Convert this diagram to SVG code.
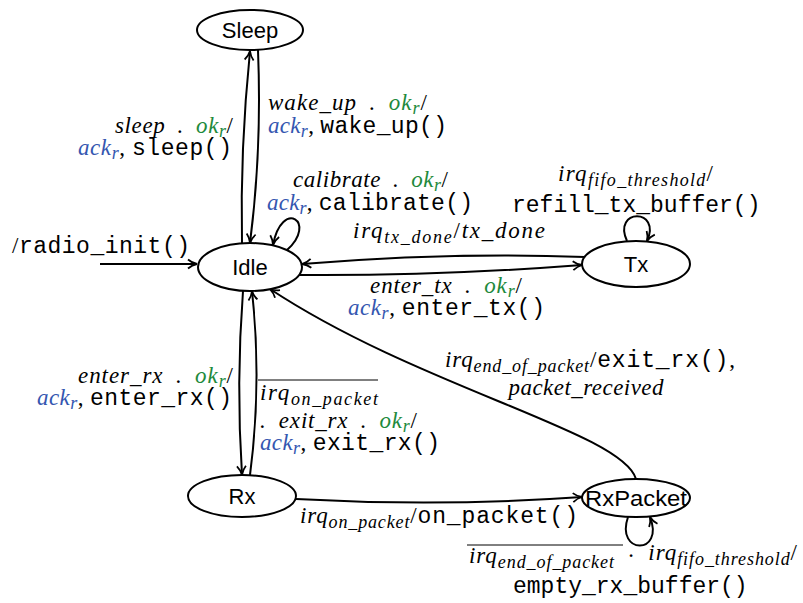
<svg xmlns="http://www.w3.org/2000/svg" width="803" height="603" viewBox="0 0 803 603">
<style>
.n{fill:#fff;stroke:#000;stroke-width:2}
.nl{font-family:"Liberation Sans",Arial,sans-serif;font-size:22px;text-anchor:middle;fill:#000}
.e{fill:none;stroke:#000;stroke-width:2;marker-end:url(#a)}
.t{font-family:"Liberation Serif","DejaVu Serif",serif;font-size:23px;fill:#000}
.m{font-style:italic}
.c{font-family:"Liberation Mono","DejaVu Sans Mono",monospace;font-size:23px;font-style:normal}
.g{fill:#1e8a3c}
.b{fill:#3456b0}
.s{font-size:18px}
.ol{stroke:#000;stroke-width:1}
</style>
<defs>
<marker id="a" viewBox="0 0 12 12" refX="11" refY="6" markerWidth="12" markerHeight="12" markerUnits="userSpaceOnUse" orient="auto">
<path d="M2,1.5 Q6,5 11,6 Q6,7 2,10.5" fill="none" stroke="#000" stroke-width="1.8"/>
</marker>
</defs>
<g id="edges">
<path class="e" d="M100 264 L197 264"/>
<path class="e" d="M242 243 Q240 150 250 51"/>
<path class="e" d="M258 50 Q262 150 250 243"/>
<path class="e" d="M287 250 C318 222 282 198 273 245"/>
<path class="e" d="M243 291 Q236 383 242 475"/>
<path class="e" d="M250 475 Q262 383 252 291"/>
<path class="e" d="M585 257 Q450 252 302 264"/>
<path class="e" d="M299 275 Q440 276 582 265"/>
<path class="e" d="M627 241 C612 208 662 208 647 241"/>
<path class="e" d="M296 499 Q440 507 582 497"/>
<path class="e" d="M636 479 C622 432 420 388 270 289"/>
<path class="e" d="M628 517 C615 555 665 555 650 517"/>
</g>
<g id="Sleep"><ellipse class="n" cx="250" cy="30" rx="53" ry="20"/><text class="nl" x="250" y="38">Sleep</text></g>
<g id="Idle"><ellipse class="n" cx="250" cy="267" rx="52" ry="24"/><text class="nl" x="250" y="275">Idle</text></g>
<g id="Tx"><ellipse class="n" cx="636" cy="264" rx="54" ry="23"/><text class="nl" x="636" y="272">Tx</text></g>
<g id="Rx"><ellipse class="n" cx="242" cy="496" rx="54" ry="21"/><text class="nl" x="242" y="504">Rx</text></g>
<g id="RxPacket"><ellipse class="n" cx="636" cy="498" rx="54" ry="19"/><text class="nl" x="636" y="506" textLength="102" lengthAdjust="spacingAndGlyphs">RxPacket</text></g>
<g id="labels">
<text class="t" x="268" y="110" textLength="159"><tspan class="m">wake_up&#8194;.&#8194;</tspan><tspan class="m g">ok</tspan><tspan class="m g s" dy="4">r</tspan><tspan dy="-4">/</tspan></text>
<text class="t" x="268" y="133" textLength="179"><tspan class="m b">ack</tspan><tspan class="m b s" dy="4">r</tspan><tspan dy="-4">, </tspan><tspan class="c">wake_up()</tspan></text>
<text class="t" x="233" y="133" text-anchor="end" textLength="118"><tspan class="m">sleep&#8194;.&#8194;</tspan><tspan class="m g">ok</tspan><tspan class="m g s" dy="4">r</tspan><tspan dy="-4">/</tspan></text>
<text class="t" x="232" y="155" text-anchor="end" textLength="154"><tspan class="m b">ack</tspan><tspan class="m b s" dy="4">r</tspan><tspan dy="-4">, </tspan><tspan class="c">sleep()</tspan></text>
<text class="t" x="293" y="187" textLength="155"><tspan class="m">calibrate&#8194;.&#8194;</tspan><tspan class="m g">ok</tspan><tspan class="m g s" dy="4">r</tspan><tspan dy="-4">/</tspan></text>
<text class="t" x="267" y="210" textLength="206"><tspan class="m b">ack</tspan><tspan class="m b s" dy="4">r</tspan><tspan dy="-4">, </tspan><tspan class="c">calibrate()</tspan></text>
<text class="t" x="353" y="238" textLength="192"><tspan class="m">irq</tspan><tspan class="m s" dy="5">tx_done</tspan><tspan dy="-5">/</tspan><tspan class="m">tx_done</tspan></text>
<text class="t" x="370" y="293" textLength="152"><tspan class="m">enter_tx&#8194;.&#8194;</tspan><tspan class="m g">ok</tspan><tspan class="m g s" dy="4">r</tspan><tspan dy="-4">/</tspan></text>
<text class="t" x="348" y="315" textLength="197"><tspan class="m b">ack</tspan><tspan class="m b s" dy="4">r</tspan><tspan dy="-4">, </tspan><tspan class="c">enter_tx()</tspan></text>
<text class="t" x="558" y="181" textLength="155"><tspan class="m">irq</tspan><tspan class="m s" dy="5">fifo_threshold</tspan><tspan dy="-5">/</tspan></text>
<text class="t" x="512" y="212"><tspan class="c">refill_tx_buffer()</tspan></text>
<text class="t" x="12" y="253" textLength="178">/<tspan class="c">radio_init()</tspan></text>
<text class="t" x="233" y="383" text-anchor="end" textLength="155"><tspan class="m">enter_rx&#8194;.&#8194;</tspan><tspan class="m g">ok</tspan><tspan class="m g s" dy="4">r</tspan><tspan dy="-4">/</tspan></text>
<text class="t" x="232" y="405" text-anchor="end" textLength="195"><tspan class="m b">ack</tspan><tspan class="m b s" dy="4">r</tspan><tspan dy="-4">, </tspan><tspan class="c">enter_rx()</tspan></text>
<line class="ol" x1="258" y1="380" x2="378" y2="380"/>
<text class="t" x="260" y="400" textLength="118"><tspan class="m">irq</tspan><tspan class="m s" dy="5">on_packet</tspan></text>
<text class="t" x="260" y="428" textLength="157"><tspan class="m">.&#8194;exit_rx&#8194;.&#8194;</tspan><tspan class="m g">ok</tspan><tspan class="m g s" dy="4">r</tspan><tspan dy="-4">/</tspan></text>
<text class="t" x="260" y="450" textLength="180"><tspan class="m b">ack</tspan><tspan class="m b s" dy="4">r</tspan><tspan dy="-4">, </tspan><tspan class="c">exit_rx()</tspan></text>
<text class="t" x="445" y="367" textLength="290"><tspan class="m">irq</tspan><tspan class="m s" dy="5">end_of_packet</tspan><tspan dy="-5">/</tspan><tspan class="c">exit_rx()</tspan>,</text>
<text class="t m" x="586" y="395" text-anchor="middle" textLength="155">packet_received</text>
<text class="t" x="300" y="523" textLength="278"><tspan class="m">irq</tspan><tspan class="m s" dy="5">on_packet</tspan><tspan dy="-5">/</tspan><tspan class="c">on_packet()</tspan></text>
<line class="ol" x1="467" y1="545" x2="623" y2="545"/>
<text class="t" x="469" y="563" textLength="328"><tspan class="m">irq</tspan><tspan class="m s" dy="5">end_of_packet</tspan><tspan dy="-5">&#8194;·&#8194;</tspan><tspan class="m" dy="-3">irq</tspan><tspan class="m s" dy="5">fifo_threshold</tspan><tspan dy="-5">/</tspan></text>
<text class="t" x="513" y="593"><tspan class="c">empty_rx_buffer()</tspan></text>
</g>
</svg>
